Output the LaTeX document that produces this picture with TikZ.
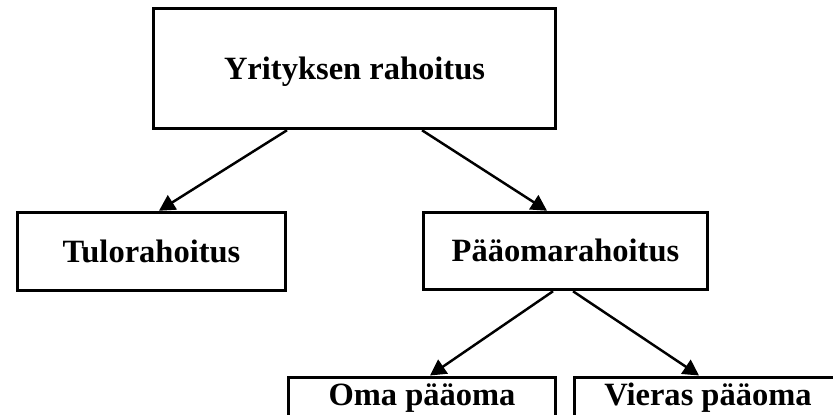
\documentclass[tikz,border=0pt]{standalone}
\usepackage{fontspec}
\setmainfont{Liberation Serif}
\usepackage{tikz}
\usetikzlibrary{arrows.meta}
\tikzset{>={Triangle[length=9pt, width=9.5pt]}}
\tikzset{laatikko/.style={draw, line width=2pt, inner sep=0pt, text height=12pt, text depth=0pt, font=\bfseries\fontsize{18.5}{20}\selectfont}}
\tikzset{nuoli/.style={->, line width=1.4pt}}

\begin{document}
\begin{tikzpicture}
    \useasboundingbox(0, 0)rectangle(16.66, 8.28);
    \clip(0, 0)rectangle(16.66, 8.28);
    \node[laatikko, minimum width=8.04cm, minimum height=2.4cm](yritys)at(7.09, 6.91){Yrityksen rahoitus};
    \node[laatikko, minimum width=5.36cm, minimum height=1.56cm](tulo)at(3.03, 3.25){Tulorahoitus};
    \node[laatikko, minimum width=5.68cm, minimum height=1.54cm](paaoma)at(11.31, 3.26){Pääomarahoitus};
    \node[laatikko, anchor=north, minimum width=5.34cm, inner ysep=.15cm, text depth=1cm](oma)at(8.44, .77){Oma pääoma};
    \node[laatikko, anchor=north, minimum width=5.34cm, inner ysep=.15cm, text depth=1cm](vieras)at(14.16, .77){Vieras pääoma};
    \draw[nuoli]([xshift=-1.35cm]yritys.south)--([xshift=.15cm]tulo.north);
    \draw[nuoli]([xshift=1.35cm]yritys.south)--([xshift=-.37cm]paaoma.north);
    \draw[nuoli]([xshift=-.25cm]paaoma.south)--([xshift=.16cm]oma.north);
    \draw[nuoli]([xshift=.15cm]paaoma.south)--([xshift=-.18cm]vieras.north);
\end{tikzpicture}
\end{document}
